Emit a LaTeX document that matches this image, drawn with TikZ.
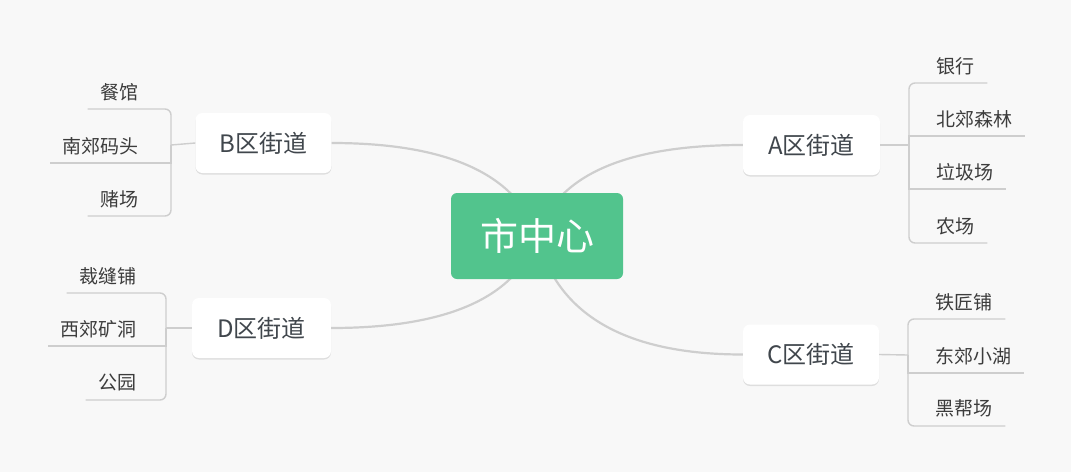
\documentclass[tikz,border=0pt]{standalone}
\usepackage{fontspec}
\setmainfont{Noto Sans CJK SC}
\usetikzlibrary{shadows}
\definecolor{bg}{RGB}{248,248,248}
\definecolor{mgreen}{RGB}{82,196,141}
\definecolor{lnc}{RGB}{206,206,206}
\definecolor{leaftxt}{RGB}{60,60,60}
\definecolor{brtxt}{RGB}{64,70,76}
\begin{document}
\begin{tikzpicture}[x=1pt,y=-1pt,
  root/.style={fill=mgreen, rounded corners=6pt, minimum width=172pt, minimum height=86pt, inner sep=0pt, text=white, font=\fontsize{38}{40}\selectfont},
  branch/.style={fill=white, rounded corners=7pt, minimum width=136pt, minimum height=60pt, inner sep=0pt, text=brtxt, font=\fontsize{24}{26}\selectfont,
     drop shadow={shadow xshift=0pt, shadow yshift=-1.5pt, opacity=0.10, fill=black}},
  leaf/.style={inner xsep=13pt, inner ysep=0pt, minimum height=34pt, text=leaftxt, font=\fontsize{19}{21}\selectfont},
  conn/.style={draw=lnc, line width=2.2pt},
  twig/.style={draw=lnc, line width=1.4pt},
  twigr/.style={twig, rounded corners=6pt}]
\fill[bg] (0,0) rectangle (1071,472);
\useasboundingbox (0,0) rectangle (1071,472);

\coordinate (c) at (537,236);
% branch nodes
\node[branch] (B) at (263.5,143) {B区街道};
\node[branch, minimum width=139pt] (D) at (261.5,328) {D区街道};
\node[branch, minimum width=137pt] (A) at (811.5,145) {A区街道};
\node[branch] (C) at (811,354.5) {C区街道};

% main connectors
\draw[conn] (B.east) .. controls +(117,0) and +(-20,-61) .. (c);
\draw[conn] (D.east) .. controls +(117,0) and +(-20,61) .. (c);
\draw[conn] (A.west) .. controls +(-117,0) and +(20,-61) .. (c);
\draw[conn] (C.west) .. controls +(-117,0) and +(20,79) .. (c);

\node[root] (root) at (537,236) {市中心};

% junctions
\coordinate (jB) at (171,145);
\coordinate (jD) at (166,328);
\coordinate (jA) at (909,145);
\coordinate (jC) at (908,355);

% B leaves
\node[leaf, anchor=south east] (b1) at (152,109) {餐馆};
\node[leaf, anchor=south east] (b2) at (152,163) {南郊码头};
\node[leaf, anchor=south east] (b3) at (152,216) {赌场};
\draw[twig] (B.west) -- (jB);
\draw[twigr] (jB) |- (b1.south west);
\draw[twig] (jB) |- (b2.south west);
\draw[twigr] (jB) |- (b3.south west);

% D leaves
\node[leaf, anchor=south east] (d1) at (150,293) {裁缝铺};
\node[leaf, anchor=south east] (d2) at (150,346) {西郊矿洞};
\node[leaf, anchor=south east] (d3) at (150,400) {公园};
\draw[twig] (D.west) -- (jD);
\draw[twigr] (jD) |- (d1.south west);
\draw[twig] (jD) |- (d2.south west);
\draw[twigr] (jD) |- (d3.south west);

% A leaves
\node[leaf, anchor=south west] (a1) at (923,83) {银行};
\node[leaf, anchor=south west] (a2) at (923,136) {北郊森林};
\node[leaf, anchor=south west] (a3) at (923,189) {垃圾场};
\node[leaf, anchor=south west] (a4) at (923,243) {农场};
\draw[twig] (A.east) -- (jA);
\draw[twigr] (jA) |- (a1.south east);
\draw[twig] (jA) |- (a2.south east);
\draw[twig] (jA) |- (a3.south east);
\draw[twigr] (jA) |- (a4.south east);

% C leaves
\node[leaf, anchor=south west] (c1) at (922,319) {铁匠铺};
\node[leaf, anchor=south west] (c2) at (922,373) {东郊小湖};
\node[leaf, anchor=south west] (c3) at (922,426) {黑帮场};
\draw[twig] (C.east) -- (jC);
\draw[twigr] (jC) |- (c1.south east);
\draw[twig] (jC) |- (c2.south east);
\draw[twigr] (jC) |- (c3.south east);
\end{tikzpicture}
\end{document}
